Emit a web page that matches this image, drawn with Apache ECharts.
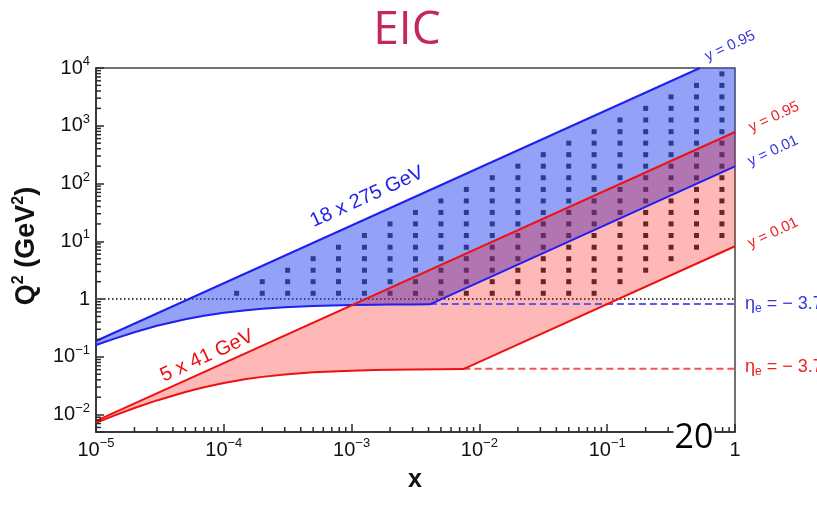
<!DOCTYPE html>
<html>
<head>
<meta charset="utf-8">
<script src="https://cdn.jsdelivr.net/npm/echarts@6/dist/echarts.min.js"></script>
<style>
  html, body { margin: 0; padding: 0; background: #fff; }
  #chart { width: 817px; height: 505px; }
</style>
</head>
<body>
<div id="chart"></div>
<script>
// Kinematic reach in (x, Q²) for two beam-energy configurations
const xRange = [1e-5, 1];
const q2Range = [0.005, 1e4];

// 18 x 275 GeV
const hiUpper = [[1e-5, 0.188], [0.5316, 1e4]];                // y = 0.95
const hiLowerCurve = [[1e-5, 0.160], [1.4e-5, 0.207], [2e-5, 0.267], [3e-5, 0.345], [5e-5, 0.449],
  [7e-5, 0.515], [1e-4, 0.580], [1.5e-4, 0.643], [2e-4, 0.679], [3e-4, 0.721], [5e-4, 0.757],
  [7e-4, 0.774], [1e-3, 0.787], [1.5e-3, 0.798], [2e-3, 0.803], [3e-3, 0.809], [4.1e-3, 0.812]]; // electron acceptance edge
const hiLowerLine = [[4.1e-3, 0.812], [1, 198]];               // y = 0.01
const hiEtaLevel = [[4.1e-3, 0.82], [1, 0.82]];

// 5 x 41 GeV
const loUpper = [[1e-5, 0.00779], [1, 779]];                   // y = 0.95
const loLowerCurve = [[1e-5, 0.00724], [1.4e-5, 0.00969], [2e-5, 0.0130], [3e-5, 0.0176], [5e-5, 0.0247],
  [7e-5, 0.0298], [1e-4, 0.0353], [1.5e-4, 0.0412], [2e-4, 0.0450], [3e-4, 0.0495], [5e-4, 0.0539],
  [7e-4, 0.0560], [1e-3, 0.0576], [1.5e-3, 0.0590], [2e-3, 0.0597], [3e-3, 0.0605], [5e-3, 0.0611],
  [7.5e-3, 0.0614]];
const loLowerLine = [[7.5e-3, 0.0614], [1, 8.2]];              // y = 0.01
const loEtaLevel = [[7.5e-3, 0.062], [1, 0.062]];

const q2Cut = [[1e-5, 1], [1, 1]];

// measurement bins: column centres in x, row centres in Q², filled row span per column
const binX = [1.26e-4, 2.0e-4, 3.16e-4, 5.0e-4, 7.9e-4, 1.26e-3, 2.0e-3, 3.16e-3, 5.0e-3, 7.9e-3,
  1.26e-2, 2.0e-2, 3.16e-2, 5.0e-2, 7.9e-2, 0.126, 0.2, 0.316, 0.5, 0.79];
const binQ2 = [1.26, 2.0, 3.16, 5.0, 7.9, 12.6, 20, 31.6, 50, 79,
  126, 200, 316, 500, 790, 1260, 2000, 3160, 5000, 7900];
const binRowLow = [0, 0, 0, 0, 0, 0, 0, 0, 0, 0, 0, 0, 0, 0, 0, 1, 2, 3, 4, 5];
const binRowHigh = [0, 1, 2, 3, 4, 5, 6, 7, 8, 9, 10, 11, 12, 13, 14, 15, 16, 17, 18, 19];

// axis ticks
const xDecades = [1e-5, 1e-4, 1e-3, 1e-2, 1e-1];
const q2Decades = [1e-3, 1e-2, 1e-1, 1, 10, 100, 1000];
const minorSteps = [2, 3, 4, 5, 6, 7, 8, 9];

const FONT = '"Liberation Sans", Arial, sans-serif';
const BLUE = '#1f1ff0';
const RED = '#ee1111';
const AXIS = '#2a2a2a';

const binPoints = [];
binX.forEach((x, i) => {
  for (let j = binRowLow[i]; j <= binRowHigh[i]; j++) binPoints.push([x, binQ2[j]]);
});

const bluePoly = hiUpper.concat([[1, 1e4]], [hiLowerLine[1]], hiLowerCurve.slice().reverse());
const redPoly = loUpper.concat([loLowerLine[1]], loLowerCurve.slice().reverse());

const xMinor = [];
xDecades.forEach(d => minorSteps.forEach(m => xMinor.push([d * m, q2Range[0]])));
const yMinor = [];
q2Decades.forEach(d => minorSteps.forEach(m => {
  const v = d * m;
  if (v > q2Range[0] && v < q2Range[1]) yMinor.push([xRange[0], v]);
}));

function polygonSeries(points, color, z) {
  return {
    type: 'custom', coordinateSystem: 'cartesian2d', z: z, silent: true, clip: true,
    data: points,
    renderItem: function (params, api) {
      if (params.dataIndex !== 0) return null;
      return { type: 'polygon', shape: { points: points.map(p => api.coord(p)) }, style: { fill: color } };
    }
  };
}

function lineSeries(data, color, z, type) {
  return {
    type: 'line', data: data, z: z, silent: true, showSymbol: false, symbol: 'none',
    lineStyle: { color: color, width: 2, type: type || 'solid' }, animation: false
  };
}

// short minor tick marks along an axis, placed through the axis scale
function tickSeries(data, horizontal, len) {
  return {
    type: 'custom', coordinateSystem: 'cartesian2d', z: 6, silent: true, clip: false,
    data: data,
    renderItem: function (params, api) {
      const p = api.coord([api.value(0), api.value(1)]);
      const shape = horizontal ? { x1: p[0], y1: p[1], x2: p[0] + len, y2: p[1] }
                               : { x1: p[0], y1: p[1], x2: p[0], y2: p[1] - len };
      return { type: 'line', shape: shape, style: { stroke: AXIS, lineWidth: 1.5, fill: null } };
    }
  };
}

function powLabel(v) {
  const l = Math.log10(v);
  const e = Math.round(l);
  if (Math.abs(l - e) > 1e-6) return '';
  if (e === 0) return '{b|1}';
  return '{b|10}{s|' + (e < 0 ? '\u2212' + (-e) : e) + '}';
}
const labelRich = {
  b: { fontSize: 20, fontFamily: FONT, color: '#111', lineHeight: 26 },
  s: { fontSize: 13, fontFamily: FONT, color: '#111', lineHeight: 12, verticalAlign: 'top' }
};

const chart = echarts.init(document.getElementById('chart'), null, { renderer: 'canvas' });
chart.setOption({
  animation: false,
  backgroundColor: '#fff',
  grid: { left: 96, right: 82, top: 68, bottom: 73, show: true, borderColor: '#444', borderWidth: 1.5,
          containLabel: false, outerBoundsMode: 'none' },
  xAxis: {
    type: 'log', logBase: 10, min: xRange[0], max: xRange[1],
    axisLine: { show: true, lineStyle: { color: AXIS, width: 1.5 } },
    axisTick: { show: true, inside: true, length: 8, lineStyle: { color: AXIS, width: 1.5 } },
    splitLine: { show: false },
    axisLabel: { formatter: powLabel, rich: labelRich, margin: 5, showMinLabel: true, showMaxLabel: true, hideOverlap: false }
  },
  yAxis: {
    type: 'log', logBase: 10, min: q2Range[0], max: q2Range[1],
    axisLine: { show: true, lineStyle: { color: AXIS, width: 1.5 } },
    axisTick: { show: true, inside: true, length: 8, lineStyle: { color: AXIS, width: 1.5 } },
    splitLine: { show: false },
    axisLabel: { formatter: powLabel, rich: labelRich, margin: 6, showMinLabel: true, showMaxLabel: true, hideOverlap: false }
  },
  series: [
    { type: 'scatter', data: binPoints, symbol: 'rect', symbolSize: 5, z: 1, silent: true,
      itemStyle: { color: '#000' } },
    lineSeries(q2Cut, '#444', 1, [1.5, 2.5]),
    polygonSeries(bluePoly, 'rgba(40,70,240,0.5)', 2),
    polygonSeries(redPoly, 'rgba(255,0,0,0.28)', 3),
    lineSeries(hiEtaLevel, '#5a5af0', 4, [7, 4]),
    lineSeries(loEtaLevel, '#f05555', 4, [7, 4]),
    lineSeries(hiUpper, BLUE, 4),
    lineSeries(hiLowerCurve.concat(hiLowerLine.slice(1)), BLUE, 4),
    lineSeries(loUpper, RED, 5),
    lineSeries(loLowerCurve.concat(loLowerLine.slice(1)), RED, 5),
    tickSeries(xMinor, false, 5),
    tickSeries(yMinor, true, 5)
  ],
  graphic: [
    { type: 'text', x: 407, y: 31, style: { text: 'EIC', font: '46px "Open Sans", sans-serif', fill: '#c52560', align: 'center', verticalAlign: 'middle' } },
    { type: 'text', x: 415, y: 480, style: { text: 'x', font: 'bold 25px ' + FONT, fill: '#111', align: 'center', verticalAlign: 'middle' } },
    { type: 'text', x: 27, y: 246, rotation: Math.PI / 2,
      style: { text: '{a|Q}{s|2}{a| (GeV}{s|2}{a|)}', align: 'center', verticalAlign: 'middle',
        rich: { a: { font: 'bold 27px ' + FONT, fill: '#111', lineHeight: 32 },
                s: { font: 'bold 16px ' + FONT, fill: '#111', lineHeight: 16, verticalAlign: 'top' } } } },
    { type: 'text', x: 367, y: 197, rotation: 24.4 * Math.PI / 180,
      style: { text: '18 x 275 GeV', font: '20px ' + FONT, fill: BLUE, align: 'center', verticalAlign: 'middle' } },
    { type: 'text', x: 207, y: 356, rotation: 24.4 * Math.PI / 180,
      style: { text: '5 x 41 GeV', font: '20px ' + FONT, fill: RED, align: 'center', verticalAlign: 'middle' } },
    { type: 'text', x: 730, y: 46, rotation: 25 * Math.PI / 180,
      style: { text: 'y = 0.95', font: '15px ' + FONT, fill: '#3535e0', align: 'center', verticalAlign: 'middle' } },
    { type: 'text', x: 774, y: 117, rotation: 25 * Math.PI / 180,
      style: { text: 'y = 0.95', font: '15px ' + FONT, fill: '#ee2222', align: 'center', verticalAlign: 'middle' } },
    { type: 'text', x: 773, y: 151, rotation: 25 * Math.PI / 180,
      style: { text: 'y = 0.01', font: '15px ' + FONT, fill: '#3535e0', align: 'center', verticalAlign: 'middle' } },
    { type: 'text', x: 773, y: 233, rotation: 25 * Math.PI / 180,
      style: { text: 'y = 0.01', font: '15px ' + FONT, fill: '#ee2222', align: 'center', verticalAlign: 'middle' } },
    { type: 'text', x: 745, y: 304,
      style: { text: '{a|\u03b7}{e|e}{a| = \u2212 3.7}', align: 'left', verticalAlign: 'middle',
        rich: { a: { font: '18px ' + FONT, fill: '#3535e0', lineHeight: 22 },
                e: { font: '12px ' + FONT, fill: '#3535e0', lineHeight: 13, verticalAlign: 'bottom' } } } },
    { type: 'text', x: 745, y: 367,
      style: { text: '{a|\u03b7}{e|e}{a| = \u2212 3.7}', align: 'left', verticalAlign: 'middle',
        rich: { a: { font: '18px ' + FONT, fill: '#ee2222', lineHeight: 22 },
                e: { font: '12px ' + FONT, fill: '#ee2222', lineHeight: 13, verticalAlign: 'bottom' } } } },
    { type: 'text', x: 694, y: 438, z: 100,
      style: { text: '20', font: '34px "Open Sans", sans-serif', fill: '#000', align: 'center', verticalAlign: 'middle',
        backgroundColor: '#fff', padding: [0, 1, 0, 1] } }
  ]
});
</script>
</body>
</html>
